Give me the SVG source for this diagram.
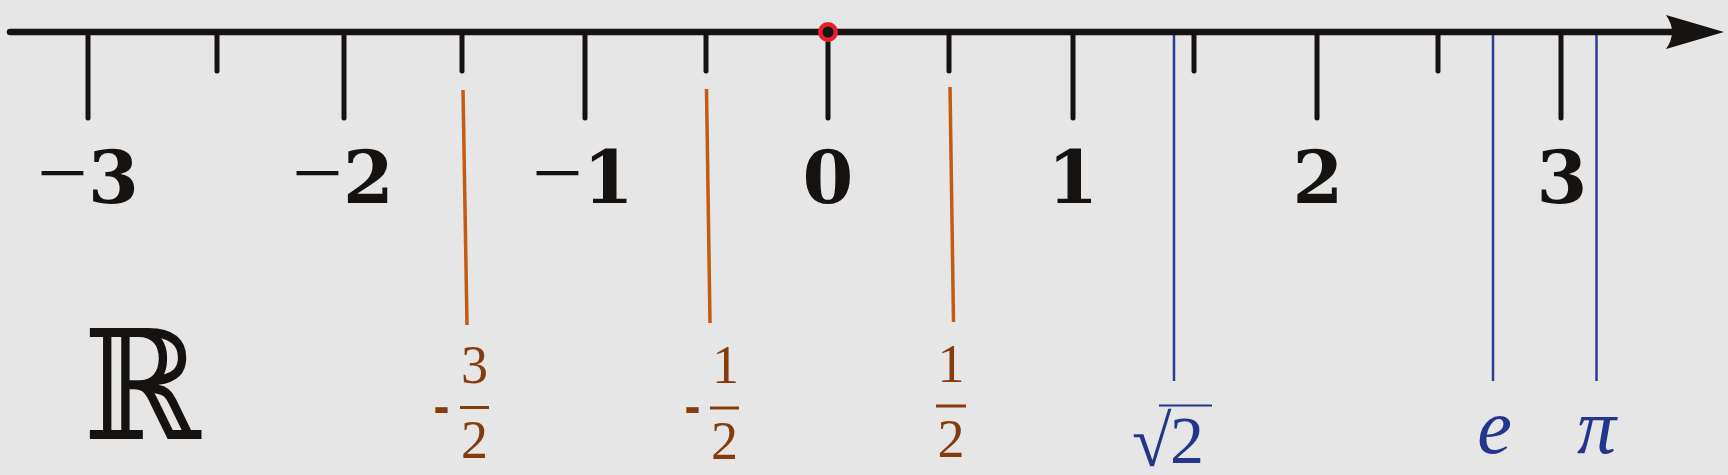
<svg xmlns="http://www.w3.org/2000/svg" width="1728" height="475" viewBox="0 0 1728 475">
<style>
.ink{stroke:#161210;fill:none;stroke-linecap:round}
.tick{stroke:#161210;stroke-width:5;stroke-linecap:round}
.orange{stroke:#c55a11;stroke-width:3.5}
.blue{stroke:#2d3c91;stroke-width:2.5}
.num{font-family:"DejaVu Serif",serif;font-weight:bold;font-size:73px;fill:#161210}
.minus{font-family:"Liberation Serif",serif;font-weight:normal;font-size:90px}
.frac{font-family:"Liberation Serif",serif;font-size:54px;fill:#843c0c}
.hyph{font-family:"Liberation Sans",sans-serif;font-weight:bold;font-size:48px;fill:#843c0c}
.bar{stroke:#843c0c;stroke-width:3}
.bl{font-family:"Liberation Serif",serif;fill:#24358c}
</style>
<rect width="1728" height="475" fill="#e6e6e6"/>

<g id="markers">
<line class="orange" x1="463" y1="90" x2="467" y2="325"/>
<line class="orange" x1="706.5" y1="89" x2="710" y2="323"/>
<line class="orange" x1="950" y1="87" x2="953.5" y2="322"/>
<line class="blue" x1="1174" y1="31" x2="1174" y2="381"/>
<line class="blue" x1="1493" y1="31" x2="1493" y2="381"/>
<line class="blue" x1="1596.5" y1="31" x2="1596.5" y2="381"/>
</g>

<g id="ticks">
<line class="tick" x1="88" y1="32" x2="88" y2="118"/>
<line class="tick" x1="217" y1="32" x2="217" y2="71"/>
<line class="tick" x1="344" y1="32" x2="344" y2="118"/>
<line class="tick" x1="462" y1="32" x2="462" y2="71"/>
<line class="tick" x1="585" y1="32" x2="585" y2="118"/>
<line class="tick" x1="706" y1="32" x2="706" y2="71"/>
<line class="tick" x1="828" y1="32" x2="828" y2="118"/>
<line class="tick" x1="949" y1="32" x2="949" y2="71"/>
<line class="tick" x1="1073" y1="32" x2="1073" y2="118"/>
<line class="tick" x1="1194" y1="32" x2="1194" y2="71"/>
<line class="tick" x1="1317" y1="32" x2="1317" y2="118"/>
<line class="tick" x1="1438" y1="32" x2="1438" y2="71"/>
<line class="tick" x1="1561" y1="32" x2="1561" y2="118"/>
</g>

<g id="axis">
<line class="ink" x1="10" y1="32" x2="1672" y2="32" stroke-width="6.5"/>
<path d="M1724,32 L1666,15 Q1678,32 1666,49 Z" fill="#161210"/>
</g>

<g id="origin">
<circle cx="828" cy="32" r="7.8" fill="#161210" stroke="#e8202a" stroke-width="4.5"/>
</g>

<g id="integer-labels">
<text class="num" x="88" y="203" text-anchor="middle"><tspan class="minus">−</tspan>3</text>
<text class="num" x="343" y="203" text-anchor="middle"><tspan class="minus">−</tspan>2</text>
<text class="num" x="583" y="203" text-anchor="middle"><tspan class="minus">−</tspan>1</text>
<text class="num" x="828" y="203" text-anchor="middle">0</text>
<text class="num" x="1073" y="203" text-anchor="middle">1</text>
<text class="num" x="1318" y="203" text-anchor="middle">2</text>
<text class="num" x="1562" y="203" text-anchor="middle">3</text>
</g>

<g id="label-minus-three-halves">
<text class="hyph" x="441.5" y="422.5" text-anchor="middle">-</text>
<text class="frac" x="474.5" y="383" text-anchor="middle">3</text>
<line class="bar" x1="460" y1="407.5" x2="489" y2="407.5"/>
<text class="frac" x="474.5" y="458" text-anchor="middle">2</text>
</g>
<g id="label-minus-one-half">
<text class="hyph" x="692.5" y="423" text-anchor="middle">-</text>
<text class="frac" x="725.5" y="383" text-anchor="middle">1</text>
<line class="bar" x1="710" y1="408" x2="739" y2="408"/>
<text class="frac" x="724.5" y="459" text-anchor="middle">2</text>
</g>
<g id="label-one-half">
<text class="frac" x="951" y="382" text-anchor="middle">1</text>
<line class="bar" x1="936" y1="406" x2="966" y2="406"/>
<text class="frac" x="951" y="457" text-anchor="middle">2</text>
</g>

<g id="label-sqrt2">
<text class="bl" x="1132" y="466" font-size="72">√</text>
<line x1="1159" y1="405.5" x2="1212" y2="405.5" stroke="#24358c" stroke-width="1.8"/>
<text class="bl" x="1187" y="463" font-size="68" text-anchor="middle">2</text>
</g>
<g id="label-e">
<text class="bl" x="1494.5" y="453" font-size="78" font-style="italic" text-anchor="middle">e</text>
</g>
<g id="label-pi">
<text class="bl" x="1596.5" y="453" font-size="78" font-style="italic" text-anchor="middle">π</text>
</g>

<g id="label-reals">
<text x="0" y="0" transform="translate(142,439) scale(0.93,1)" font-family="DejaVu Serif,serif" font-size="152" fill="#161210" text-anchor="middle">ℝ</text>
</g>
</svg>
